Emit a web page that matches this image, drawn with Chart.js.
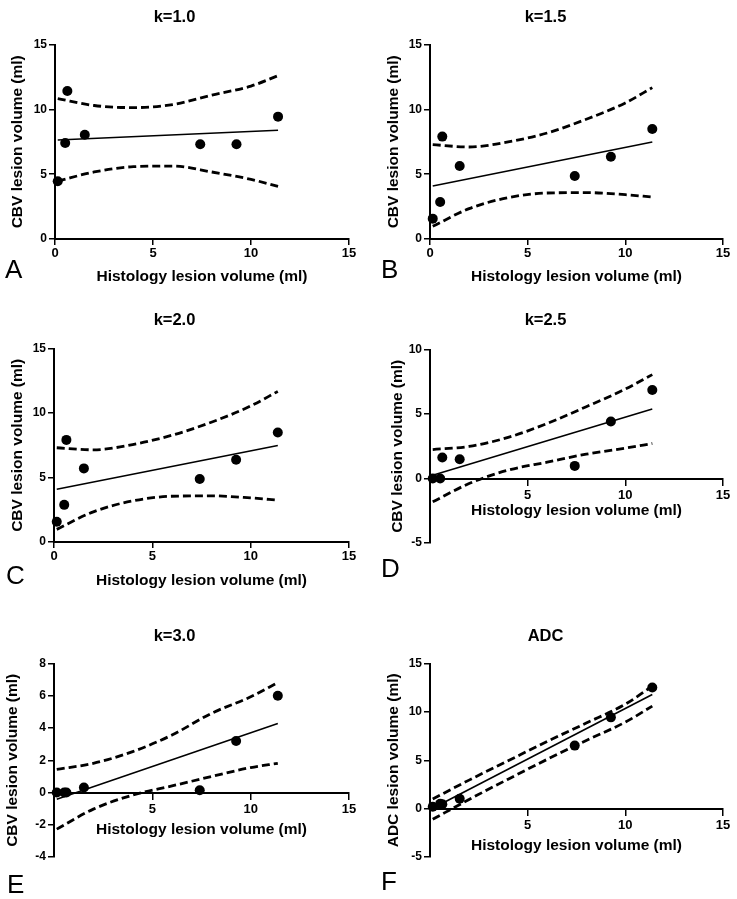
<!DOCTYPE html>
<html lang="en">
<head>
    <meta charset="UTF-8">
    <title>Lesion volume regressions</title>
    <script src="https://cdn.jsdelivr.net/npm/chart.js"></script>
    <style>
        body { margin: 0; background: #fff; }
        #page { position: relative; width: 737px; height: 899px; }
        canvas { position: absolute; }
        .tag { position: absolute; font: 26px/26px "Liberation Sans", Arial, sans-serif; color: #000; }
    </style>
</head>
<body>
<div id="page">
    <canvas id="cA" width="368" height="300" style="left:0;top:0"></canvas>
    <canvas id="cB" width="369" height="300" style="left:368px;top:0"></canvas>
    <canvas id="cC" width="368" height="300" style="left:0;top:300px"></canvas>
    <canvas id="cD" width="369" height="300" style="left:368px;top:300px"></canvas>
    <canvas id="cE" width="368" height="299" style="left:0;top:600px"></canvas>
    <canvas id="cF" width="369" height="299" style="left:368px;top:600px"></canvas>
    <div class="tag" style="left:5px;top:256px">A</div>
    <div class="tag" style="left:381px;top:256px">B</div>
    <div class="tag" style="left:6px;top:562px">C</div>
    <div class="tag" style="left:381px;top:555px">D</div>
    <div class="tag" style="left:7px;top:871px">E</div>
    <div class="tag" style="left:381px;top:868px">F</div>
</div>

<script>
    // histology lesion volume (ml), same for every panel
    const histology = [0.14, 0.52, 0.63, 1.52, 7.41, 9.26, 11.38];
    const bandX = [0.14, 2, 4, 6, 8, 10, 11.38];
    const fitX = [0.14, 11.38];

    const cbvK10 = [4.45, 7.41, 11.42, 8.05, 7.31, 7.31, 9.44];
    const fitK10 = [7.64, 8.39];
    const upperK10 = [10.83, 10.3, 10.14, 10.37, 11.1, 11.8, 12.6];
    const lowerK10 = [4.47, 5.17, 5.58, 5.63, 5.17, 4.6, 4.06];

    const cbvK15 = [1.57, 2.86, 7.9, 5.63, 4.86, 6.35, 8.49];
    const fitK15 = [4.09, 7.49];
    const upperK15 = [7.28, 7.1, 7.49, 8.18, 9.24, 10.5, 11.68];
    const lowerK15 = [0.98, 2.34, 3.19, 3.55, 3.58, 3.42, 3.24];

    const cbvK20 = [1.57, 2.88, 7.92, 5.71, 4.89, 6.38, 8.49];
    const fitK20 = [4.09, 7.49];
    const upperK20 = [7.31, 7.15, 7.56, 8.28, 9.29, 10.55, 11.68];
    const lowerK20 = [0.98, 2.34, 3.19, 3.55, 3.58, 3.42, 3.24];

    const cbvK25 = [0, 0, 1.63, 1.5, 0.98, 4.43, 6.87];
    const fitK25 = [0.26, 5.39];
    const upperK25 = [2.25, 2.49, 3.19, 4.27, 5.57, 6.94, 8.06];
    const lowerK25 = [-1.81, -0.39, 0.65, 1.27, 1.89, 2.36, 2.72];

    const cbvK30 = [0, 0, 0, 0.31, 0.14, 3.2, 6.0];
    const fitK30 = [-0.41, 4.29];
    const upperK30 = [1.44, 1.81, 2.54, 3.57, 4.91, 5.94, 6.82];
    const lowerK30 = [-2.27, -1.03, -0.16, 0.41, 0.99, 1.55, 1.81];

    const adc = [0.2, 0.5, 0.45, 1.03, 6.52, 9.44, 12.53];
    const fitAdc = [0.05, 11.8];
    const upperAdc = [1.0, 2.95, 4.95, 6.95, 8.85, 10.8, 12.67];
    const lowerAdc = [-1.1, 0.95, 3.05, 5.1, 7.05, 8.95, 10.6];

    const FONT = '"Liberation Sans", Arial, sans-serif';
    Chart.defaults.color = '#000';
    Chart.defaults.font.family = FONT;

    const pts = (xs, ys) => xs.map((x, i) => ({ x: x, y: ys[i] }));

    function panel(id, p) {
        const band = {
            type: 'scatter', showLine: true, borderColor: '#000', borderWidth: 2.8,
            borderDash: [8, 4], pointRadius: 0, cubicInterpolationMode: 'monotone', clip: false
        };
        const crossAtZero = p.yMin < 0;
        return new Chart(document.getElementById(id), {
            type: 'scatter',
            data: {
                datasets: [
                    { ...band, data: pts(bandX, p.upper) },
                    { ...band, data: pts(bandX, p.lower) },
                    { showLine: true, borderColor: '#000', borderWidth: 1.6, pointRadius: 0,
                      data: pts(fitX, p.fit), clip: false },
                    { data: pts(histology, p.obs), pointRadius: 5, pointBackgroundColor: '#000',
                      pointBorderColor: '#000', borderWidth: 0, clip: false }
                ]
            },
            options: {
                responsive: false,
                animation: false,
                layout: { padding: { left: 0, right: p.right, top: 0, bottom: p.bottom } },
                plugins: {
                    legend: { display: false },
                    tooltip: { enabled: false },
                    title: {
                        display: true, text: p.title, color: '#000',
                        font: { size: 16.5, weight: 'bold', family: FONT },
                        padding: { top: p.titleTop, bottom: p.titleBottom }
                    }
                },
                scales: {
                    x: {
                        type: 'linear', min: 0, max: 15,
                        position: crossAtZero ? { y: 0 } : 'bottom',
                        afterFit: s => { s.height = p.xH; },
                        grid: { drawOnChartArea: false, drawTicks: true, tickLength: 6, color: '#000', lineWidth: 1.5 },
                        border: { color: '#000', width: 2 },
                        ticks: {
                            stepSize: 5, padding: crossAtZero ? 3 : 1, color: '#000',
                            font: { size: 13, weight: 'bold', family: FONT },
                            callback: v => (crossAtZero && v === 0) ? '' : v
                        },
                        title: {
                            display: true, text: 'Histology lesion volume (ml)', color: '#000',
                            font: { size: 15.5, weight: 'bold', family: FONT },
                            padding: { top: 0, bottom: 3 }
                        }
                    },
                    y: {
                        type: 'linear', min: p.yMin, max: p.yMax, position: 'left',
                        afterFit: s => { s.width = p.yW; },
                        grid: { drawOnChartArea: false, drawTicks: true, tickLength: 6, color: '#000', lineWidth: 1.5 },
                        border: { color: '#000', width: 2 },
                        ticks: {
                            stepSize: p.yStep, padding: 2, color: '#000',
                            font: { size: 12, weight: 'bold', family: FONT }
                        },
                        title: {
                            display: true, text: p.yTitle, color: '#000',
                            font: { size: 15.5, weight: 'bold', family: FONT },
                            padding: { top: p.yTitlePad, bottom: 0 }
                        }
                    }
                }
            }
        });
    }

    const CBV = 'CBV lesion volume (ml)';

    panel('cA', { title: 'k=1.0', obs: cbvK10, fit: fitK10, upper: upperK10, lower: lowerK10,
        yMin: 0, yMax: 15, yStep: 5, yTitle: CBV,
        titleTop: 7.4, titleBottom: 17.4, yW: 55, yTitlePad: 8.7, right: 19, xH: 50, bottom: 11 });
    panel('cB', { title: 'k=1.5', obs: cbvK15, fit: fitK15, upper: upperK15, lower: lowerK15,
        yMin: 0, yMax: 15, yStep: 5, yTitle: CBV,
        titleTop: 7.4, titleBottom: 17.4, yW: 62, yTitlePad: 16.7, right: 14, xH: 50, bottom: 11 });
    panel('cC', { title: 'k=2.0', obs: cbvK20, fit: fitK20, upper: upperK20, lower: lowerK20,
        yMin: 0, yMax: 15, yStep: 5, yTitle: CBV,
        titleTop: 10.4, titleBottom: 18.4, yW: 54, yTitlePad: 8.2, right: 19, xH: 51, bottom: 7 });
    panel('cD', { title: 'k=2.5', obs: cbvK25, fit: fitK25, upper: upperK25, lower: lowerK25,
        yMin: -5, yMax: 10, yStep: 5, yTitle: CBV,
        titleTop: 10.4, titleBottom: 19.4, yW: 62, yTitlePad: 20.7, right: 14, xH: 44, bottom: 57 });
    panel('cE', { title: 'k=3.0', obs: cbvK30, fit: fitK30, upper: upperK30, lower: lowerK30,
        yMin: -4, yMax: 8, yStep: 2, yTitle: CBV,
        titleTop: 26.4, titleBottom: 17.4, yW: 54, yTitlePad: 3.2, right: 19, xH: 49, bottom: 42 });
    panel('cF', { title: 'ADC', obs: adc, fit: fitAdc, upper: upperAdc, lower: lowerAdc,
        yMin: -5, yMax: 15, yStep: 5, yTitle: 'ADC lesion volume (ml)',
        titleTop: 26.4, titleBottom: 17.4, yW: 62, yTitlePad: 16.2, right: 14, xH: 49, bottom: 42 });
</script>
</body>
</html>
